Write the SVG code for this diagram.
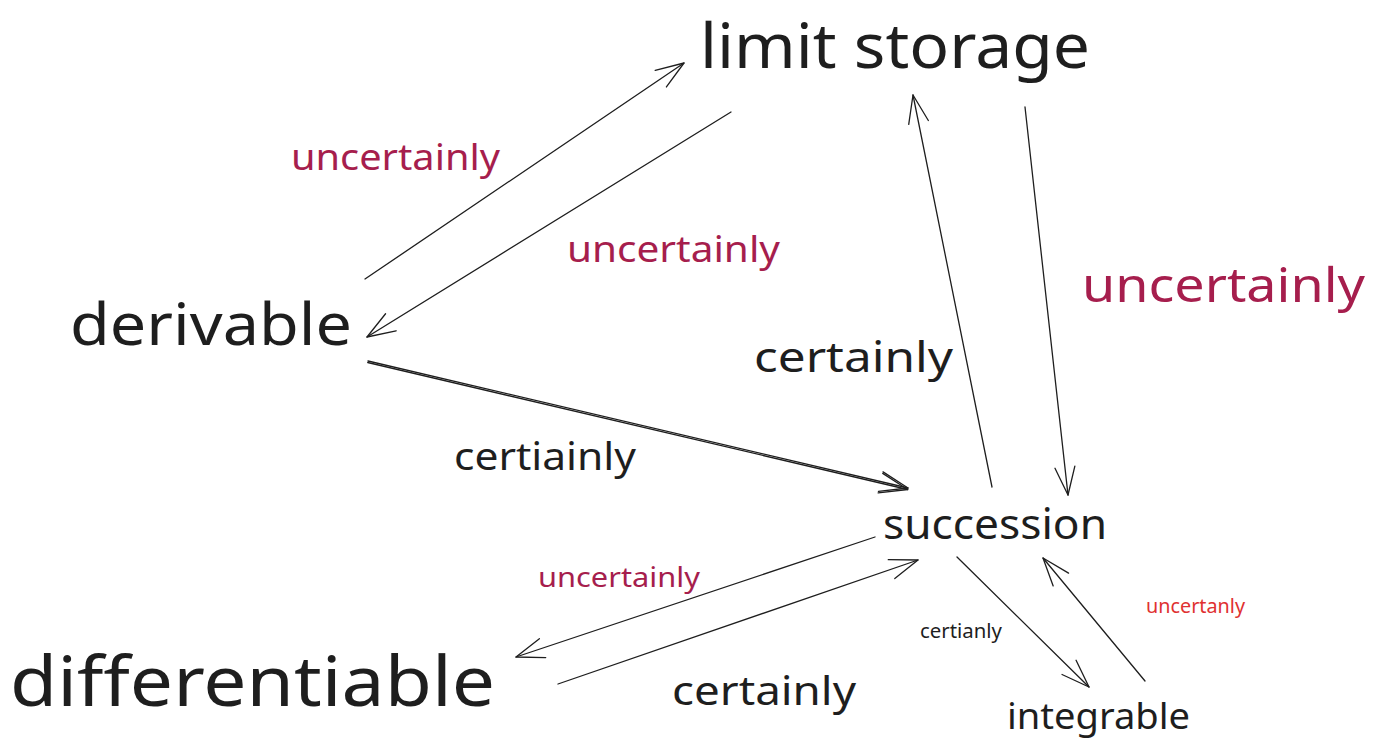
<svg xmlns="http://www.w3.org/2000/svg" width="1379" height="751" viewBox="0 0 1379 751">
<style>
text{font-family:"Noto Sans","Liberation Sans",sans-serif;fill:#1e1e1e}
.node text{font-weight:400}
.pink{fill:#a61e4d}
.red{fill:#e03131}
.edge{stroke:#1e1e1e;stroke-width:1.3;fill:none;stroke-linecap:round}
</style>
<defs>
<marker id="ah" markerUnits="userSpaceOnUse" markerWidth="40" markerHeight="30" refX="0" refY="0" viewBox="-32 -15 36 30" orient="auto" overflow="visible">
<path d="M-28,-10 L0,0 L-28,10" fill="none" stroke="#1e1e1e" stroke-width="1.3" stroke-linecap="round" stroke-linejoin="round"/>
</marker>
</defs>
<rect width="1379" height="751" fill="#ffffff"/>
<g id="limit-storage" class="node"><text x="700" y="68" font-size="62" textLength="390" lengthAdjust="spacingAndGlyphs">limit storage</text></g>
<g id="derivable" class="node"><text x="70" y="345" font-size="58" textLength="282" lengthAdjust="spacingAndGlyphs">derivable</text></g>
<g id="differentiable" class="node"><text x="10" y="706" font-size="70" textLength="485" lengthAdjust="spacingAndGlyphs">differentiable</text></g>
<g id="succession" class="node"><text x="883" y="539" font-size="42" textLength="224" lengthAdjust="spacingAndGlyphs">succession</text></g>
<g id="integrable" class="node"><text x="1007" y="729" font-size="37" textLength="183" lengthAdjust="spacingAndGlyphs">integrable</text></g>
<g id="connectors">
<line class="edge" x1="365" y1="279" x2="684" y2="63" marker-end="url(#ah)"/>
<line class="edge" x1="731" y1="112" x2="367" y2="337" marker-end="url(#ah)"/>
<line class="edge" x1="368" y1="361" x2="908" y2="488" marker-end="url(#ah)"/>
<line class="edge" x1="367.7" y1="362.5" x2="907.7" y2="489.5" marker-end="url(#ah)"/>
<line class="edge" x1="992" y1="487" x2="913" y2="95" marker-end="url(#ah)"/>
<line class="edge" x1="1025" y1="107" x2="1068" y2="495" marker-end="url(#ah)"/>
<line class="edge" x1="875" y1="537" x2="516" y2="657" marker-end="url(#ah)"/>
<line class="edge" x1="558" y1="684" x2="918" y2="560" marker-end="url(#ah)"/>
<line class="edge" x1="957" y1="557" x2="1089" y2="687" marker-end="url(#ah)"/>
<line class="edge" x1="1145" y1="681" x2="1043" y2="558" marker-end="url(#ah)"/>
</g>
<g id="labels">
<text class="pink" x="291" y="170" font-size="36" textLength="209" lengthAdjust="spacingAndGlyphs">uncertainly</text>
<text class="pink" x="567" y="262" font-size="36" textLength="213" lengthAdjust="spacingAndGlyphs">uncertainly</text>
<text class="pink" x="1082" y="302" font-size="48" textLength="283" lengthAdjust="spacingAndGlyphs">uncertainly</text>
<text x="754" y="372" font-size="42" textLength="199" lengthAdjust="spacingAndGlyphs">certainly</text>
<text x="454" y="470" font-size="38" textLength="182" lengthAdjust="spacingAndGlyphs">certiainly</text>
<text class="pink" x="538" y="587" font-size="28" textLength="162" lengthAdjust="spacingAndGlyphs">uncertainly</text>
<text x="672" y="705" font-size="40" textLength="184" lengthAdjust="spacingAndGlyphs">certainly</text>
<text x="920" y="638" font-size="20" textLength="82" lengthAdjust="spacingAndGlyphs">certianly</text>
<text class="red" x="1146" y="613" font-size="20" textLength="99" lengthAdjust="spacingAndGlyphs">uncertanly</text>
</g>
</svg>
